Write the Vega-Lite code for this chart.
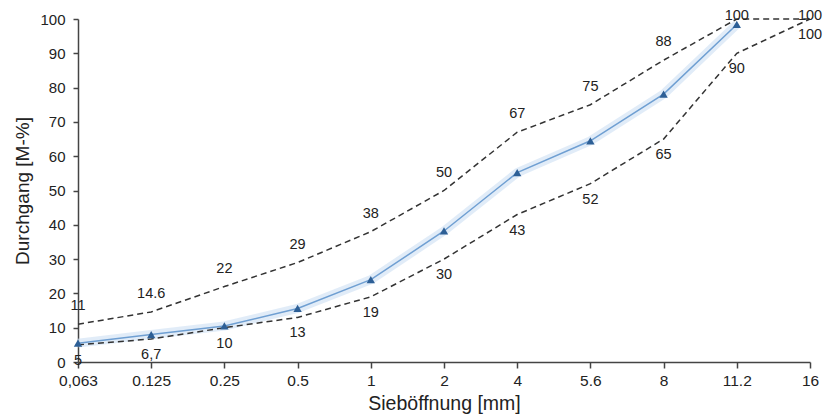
{
  "$schema": "https://vega.github.io/schema/vega-lite/v6.json",
  "width": 732,
  "height": 343,
  "autosize": {"type": "none"},
  "padding": {"left": 78, "top": 19, "right": 15, "bottom": 57},
  "background": "white",
  "config": {
    "font": "Liberation Sans",
    "view": {"stroke": null},
    "axis": {"grid": false, "domainColor": "#444", "tickColor": "#444", "labelColor": "#222", "titleColor": "#222", "labelFont": "Liberation Sans", "titleFont": "Liberation Sans", "titleFontWeight": "normal", "labelOverlap": false},
    "axisY": {"tickCount": 20, "labelOverlap": false, "labelFontSize": 15, "titleFontSize": 19, "tickSize": 5, "labelPadding": 8, "titlePadding": 7, "domainWidth": 1.5, "tickWidth": 1.5, "labelExpr": "datum.value % 10 == 0 ? datum.label : ''"}
  },
  "data": {
    "values": [
      {"sieb": "0,063", "upper": 11, "lower": 5, "actual": 5.5, "upperLabel": "11", "lowerLabel": "5"},
      {"sieb": "0.125", "upper": 14.6, "lower": 6.7, "actual": 8, "upperLabel": "14.6", "lowerLabel": "6,7"},
      {"sieb": "0.25", "upper": 22, "lower": 10, "actual": 10.5, "upperLabel": "22", "lowerLabel": "10"},
      {"sieb": "0.5", "upper": 29, "lower": 13, "actual": 15.6, "upperLabel": "29", "lowerLabel": "13"},
      {"sieb": "1", "upper": 38, "lower": 19, "actual": 24, "upperLabel": "38", "lowerLabel": "19"},
      {"sieb": "2", "upper": 50, "lower": 30, "actual": 38.2, "upperLabel": "50", "lowerLabel": "30"},
      {"sieb": "4", "upper": 67, "lower": 43, "actual": 55.2, "upperLabel": "67", "lowerLabel": "43"},
      {"sieb": "5.6", "upper": 75, "lower": 52, "actual": 64.5, "upperLabel": "75", "lowerLabel": "52"},
      {"sieb": "8", "upper": 88, "lower": 65, "actual": 78.1, "upperLabel": "88", "lowerLabel": "65"},
      {"sieb": "11.2", "upper": 100, "lower": 90, "actual": 98.4, "upperLabel": "100", "lowerLabel": "90"},
      {"sieb": "16", "upper": 100, "lower": 100, "actual": null, "upperLabel": "100", "lowerLabel": "100"}
    ]
  },
  "encoding": {
    "x": {
      "field": "sieb", "type": "ordinal",
      "sort": ["0,063", "0.125", "0.25", "0.5", "1", "2", "4", "5.6", "8", "11.2", "16"],
      "scale": {"type": "point", "padding": 0},
      "axis": {"title": "Sieböffnung [mm]", "labelAngle": 0, "labelFontSize": 15.5, "titleFontSize": 19.5, "tickSize": 6, "labelPadding": 5, "titlePadding": 6, "domainWidth": 1.5, "tickWidth": 1.5, "labelOverlap": false}
    }
  },
  "layer": [
    {
      "mark": {"type": "line", "color": "#d4e4f5", "strokeWidth": 9, "opacity": 0.7},
      "encoding": {
        "y": {
          "field": "actual", "type": "quantitative",
          "scale": {"domain": [0, 100], "nice": false},
          "axis": {"title": "Durchgang [M-%]", "values": [0,5,10,15,20,25,30,35,40,45,50,55,60,65,70,75,80,85,90,95,100]}
        }
      }
    },
    {
      "mark": {"type": "line", "color": "#333", "strokeDash": [6, 4], "strokeWidth": 1.5},
      "encoding": {"y": {"field": "upper", "type": "quantitative", "axis": {"title": "Durchgang [M-%]", "values": [0,5,10,15,20,25,30,35,40,45,50,55,60,65,70,75,80,85,90,95,100]}}}
    },
    {
      "mark": {"type": "line", "color": "#333", "strokeDash": [6, 4], "strokeWidth": 1.5},
      "encoding": {"y": {"field": "lower", "type": "quantitative", "axis": {"title": "Durchgang [M-%]", "values": [0,5,10,15,20,25,30,35,40,45,50,55,60,65,70,75,80,85,90,95,100]}}}
    },
    {
      "mark": {"type": "line", "color": "#6f9fd2", "strokeWidth": 1.5},
      "encoding": {"y": {"field": "actual", "type": "quantitative", "axis": {"title": "Durchgang [M-%]", "values": [0,5,10,15,20,25,30,35,40,45,50,55,60,65,70,75,80,85,90,95,100]}}}
    },
    {
      "mark": {"type": "point", "shape": "triangle-up", "filled": true, "color": "#2d5f96", "size": 70, "opacity": 1},
      "encoding": {"y": {"field": "actual", "type": "quantitative", "axis": {"title": "Durchgang [M-%]", "values": [0,5,10,15,20,25,30,35,40,45,50,55,60,65,70,75,80,85,90,95,100]}}}
    },
    {
      "transform": [{"filter": "datum.upper < 100"}],
      "mark": {"type": "text", "fontSize": 14.5, "color": "#222", "dy": -18},
      "encoding": {"y": {"field": "upper", "type": "quantitative", "axis": {"title": "Durchgang [M-%]", "values": [0,5,10,15,20,25,30,35,40,45,50,55,60,65,70,75,80,85,90,95,100]}}, "text": {"field": "upperLabel"}}
    },
    {
      "transform": [{"filter": "datum.upper >= 100"}],
      "mark": {"type": "text", "fontSize": 14.5, "color": "#222", "dy": -3},
      "encoding": {"y": {"field": "upper", "type": "quantitative", "axis": {"title": "Durchgang [M-%]", "values": [0,5,10,15,20,25,30,35,40,45,50,55,60,65,70,75,80,85,90,95,100]}}, "text": {"field": "upperLabel"}}
    },
    {
      "mark": {"type": "text", "fontSize": 14.5, "color": "#222", "dy": 16},
      "encoding": {"y": {"field": "lower", "type": "quantitative", "axis": {"title": "Durchgang [M-%]", "values": [0,5,10,15,20,25,30,35,40,45,50,55,60,65,70,75,80,85,90,95,100]}}, "text": {"field": "lowerLabel"}}
    }
  ]
}
